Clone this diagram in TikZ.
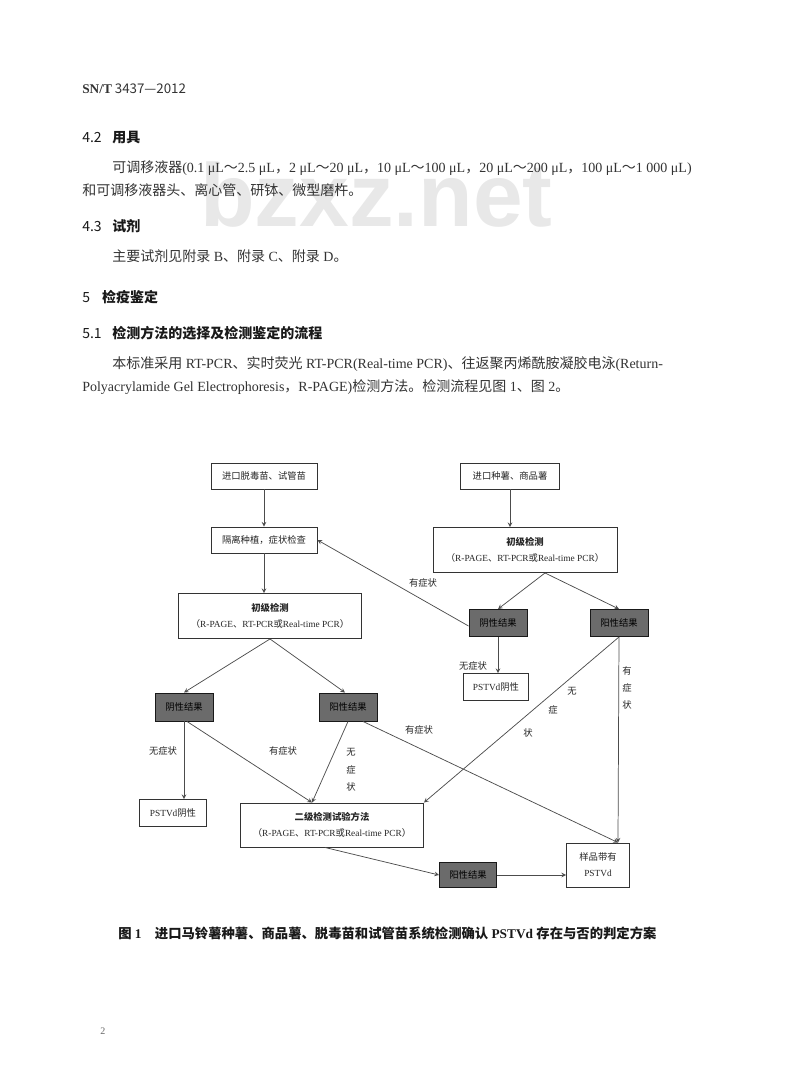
\documentclass[tikz,border=0pt]{standalone}
\usepackage{fontspec}
\setmainfont{Liberation Serif}
\newfontfamily\cjk{Noto Sans CJK SC}
\newfontfamily\wmfont{Liberation Sans}
\usetikzlibrary{shapes.geometric, arrows}
\newdimen\pxu \pxu=0.75pt
\newcommand{\latn}[1]{{\rmfamily #1}}
\newcommand{\pcrline}{（\latn{R-PAGE}、\latn{RT-PCR}或\latn{Real-time PCR}）}
\tikzstyle{ptext} = [anchor=base west, inner sep=0pt, text=black!80, font=\fontsize{10.5}{14}\selectfont\cjk]
\tikzstyle{phead} = [anchor=base west, inner sep=0pt, text=black!90, font=\fontsize{10.5}{14}\selectfont\cjk]
\tikzstyle{pbox} = [rectangle, draw=black!80, line width=0.7pt, fill=white, align=center, inner sep=0pt, text=black!85, font=\fontsize{7}{12}\selectfont\cjk]
\tikzstyle{psmall} = [pbox, minimum width=106\pxu, minimum height=26\pxu]
\tikzstyle{pwide} = [pbox, minimum width=183\pxu, minimum height=45\pxu]
\tikzstyle{presult} = [pbox, draw=black!90, fill=black!58, text=black, minimum width=58\pxu, minimum height=27\pxu]
\tikzstyle{plabel} = [inner sep=0pt, align=center, text=black!85, font=\fontsize{7}{13}\selectfont\cjk]
\tikzstyle{arrow} = [draw=black!70, line width=0.55pt, ->, >=stealth]

\begin{document}
\begin{tikzpicture}[x=0.75pt, y=-0.75pt, node distance=64\pxu]
\useasboundingbox (0,0) rectangle (800,1083);
% watermark
\node (wm) [anchor=base west, inner sep=0pt, text=black!9, font=\fontsize{67}{67}\selectfont\wmfont\bfseries] at (200,226) {bzxz.net};

% page text
\node (std) [ptext, font=\fontsize{10}{14}\selectfont\cjk] at (82,93) {\latn{\bfseries SN/T} 3437—2012};
\node (sec42) [phead] at (82,142) {4.2\hspace{8pt}\bfseries 用具};
\node (tools1) [ptext] at (112,172) {可调移液器\latn{(0.1 μL}～\latn{2.5 μL}，\latn{2 μL}～\latn{20 μL}，\latn{10 μL}～\latn{100 μL}，\latn{20 μL}～\latn{200 μL}，\latn{100 μL}～\latn{1 000 μL)}};
\node (tools2) [ptext] at (82,195) {和可调移液器头、离心管、研钵、微型磨杵。};
\node (sec43) [phead] at (82,231) {4.3\hspace{8pt}\bfseries 试剂};
\node (reag) [ptext] at (112,261) {主要试剂见附录\latn{ B}、附录\latn{ C}、附录\latn{ D}。};
\node (sec5) [phead] at (82,302) {5\hspace{9pt}\bfseries 检疫鉴定};
\node (sec51) [phead] at (82,338) {5.1\hspace{8pt}\bfseries 检测方法的选择及检测鉴定的流程};
\node (meth1) [ptext] at (112,368) {本标准采用\latn{ RT-PCR}、实时荧光\latn{ RT-PCR(Real-time PCR)}、往返聚丙烯酰胺凝胶电泳\latn{(Return-}};
\node (meth2) [ptext] at (82,391) {\latn{Polyacrylamide Gel Electrophoresis}，\latn{R-PAGE)}检测方法。检测流程见图\latn{ 1}、图\latn{ 2}。};

% flow chart
\node (seedling) [psmall] at (264,476) {进口脱毒苗、试管苗};
\node (isolate) [psmall, below of=seedling] {隔离种植，症状检查};
\node (firstL) [pwide] at (270,616) {\bfseries 初级检测\\\pcrline};
\node (tuber) [psmall, minimum width=99\pxu] at (510,476) {进口种薯、商品薯};
\node (firstR) [pwide, minimum width=184\pxu] at (525,550) {\bfseries 初级检测\\\pcrline};
\node (negR) [presult] at (498,623) {阴性结果};
\node (posR) [presult] at (619,623) {阳性结果};
\node (pnegR) [psmall, minimum width=65\pxu, minimum height=27\pxu, below of=negR, xshift=-2\pxu] {\latn{PSTVd}阴性};
\node (negL) [presult, minimum height=28\pxu] at (184,707) {阴性结果};
\node (posL) [presult, minimum height=28\pxu] at (348,707) {阳性结果};
\node (pnegL) [psmall, minimum width=67\pxu, minimum height=27\pxu] at (173,813) {\latn{PSTVd}阴性};
\node (second) [pwide, minimum height=44\pxu] at (332,825) {\bfseries 二级检测试验方法\\\pcrline};
\node (posB) [presult, minimum width=57\pxu, minimum height=25\pxu] at (468,875) {阳性结果};
\node (carry) [pbox, minimum width=63\pxu, minimum height=44\pxu] at (598,865) {样品带有\\\latn{PSTVd}};

\coordinate (firstRout) at ([xshift=20\pxu]firstR.south);
\coordinate (secondin) at ([xshift=-20\pxu]second.north);
\coordinate (carryin) at ([xshift=20\pxu]carry.north);

\draw [arrow] (seedling) -- (isolate);
\draw [arrow] (isolate.south) -- (isolate.south |- firstL.north);
\draw [arrow] (tuber) -- (tuber |- firstR.north);
\draw [arrow] (firstRout) -- (negR.north);
\draw [arrow] (firstRout) -- (posR.north);
\draw [arrow] ([yshift=-3\pxu]negR.west) -- (isolate.east);
\draw [arrow] (negR.south) -- (negR.south |- pnegR.north);
\draw [arrow] (firstL.south) -- (negL.north);
\draw [arrow] (firstL.south) -- ([xshift=-3\pxu]posL.north);
\draw [arrow] (negL.south) -- (negL.south |- pnegL.north);
\draw [arrow] ([xshift=3\pxu]negL.south) -- (secondin);
\draw [arrow] (posL.south) -- (secondin);
\draw [arrow] ([xshift=15\pxu]posL.south) -- (carryin);
\draw [arrow] (posR.south) -- (second.north east);
\draw [arrow] (posR.south) -- (carryin);
\draw [arrow] ([xshift=-7\pxu]second.south) -- (posB.west);
\draw [arrow] (posB.east) -- (posB.east -| carry.west);

% labels
\node (symA) [plabel] at (423,583) {有症状};
\node (nosymA) [plabel] at (473,666) {无症状};
\node (nosymB) [plabel] at (163,751) {无症状};
\node (symB) [plabel] at (283,751) {有症状};
\node (nosymC) [plabel] at (351,770) {无\\症\\状};
\node (symC) [plabel] at (419,730) {有症状};
\node (nosymD1) [plabel] at (572,691) {无};
\node (nosymD2) [plabel] at (553,710) {症};
\node (nosymD3) [plabel] at (528,733) {状};
\node (symD) [plabel] at (627,688) {有\\症\\状};

% caption and page number
\node (caption) [ptext, text=black!90, font=\fontsize{10}{14}\selectfont\cjk\bfseries] at (118,938) {图\latn{ 1}\hspace{10pt}进口马铃薯种薯、商品薯、脱毒苗和试管苗系统检测确认\latn{ PSTVd }存在与否的判定方案};
\node (pagenum) [ptext, text=black!60, font=\fontsize{7.5}{9}\selectfont] at (100,1034) {2};
\end{tikzpicture}
\end{document}
